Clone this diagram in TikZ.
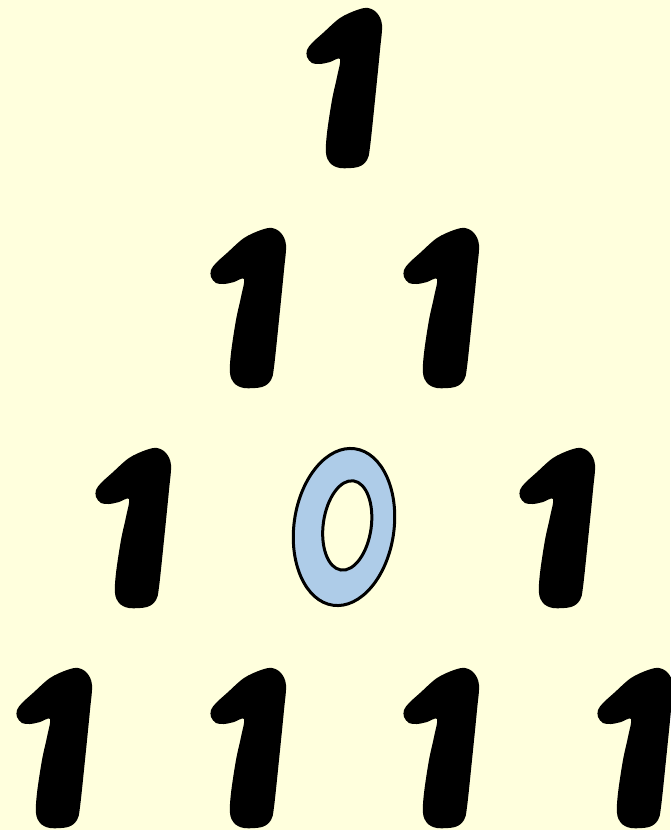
\documentclass[tikz,border=0pt]{standalone}
\definecolor{paper}{RGB}{255,255,221}
\definecolor{zeroblue}{RGB}{174,204,232}
\tikzset{
  one/.pic={
    \fill[black] plot[smooth cycle, tension=0.55] coordinates {
      (62,0) (71,5) (76,17) (74,42) (69,92) (64,139) (61,152) (52,159)
      (34,160) (24,155) (20,145) (21,125) (26,92) (31,69) (34,51)
      (24,54) (14,56) (6,55) (1,49) (1,42) (6,35) (17,25) (34,10) (51,2)};
  },
  zero/.pic={
    \filldraw[fill=zeroblue, draw=black, line width=3, even odd rule, rotate=-8]
      (0,0) ellipse [x radius=50, y radius=79]
      (3,-2) ellipse [x radius=24, y radius=45];
  }
}
\begin{document}
\begin{tikzpicture}[x=1pt, y=-1pt]
  \fill[paper] (0,0) rectangle (670,830);
  \useasboundingbox (0,0) rectangle (670,830);
  % row 1
  \pic (a1) at (306,8) {one};
  % row 2
  \pic (b1) at (210,228) {one};
  \pic (b2) at (403,228) {one};
  % row 3
  \pic (c1) at (95,448) {one};
  \pic (c2) at (344,527) {zero};
  \pic (c3) at (519,448) {one};
  % row 4
  \pic (d1) at (16,668) {one};
  \pic (d2) at (210,668) {one};
  \pic (d3) at (403,668) {one};
  \pic (d4) at (597,668) {one};
\end{tikzpicture}
\end{document}
